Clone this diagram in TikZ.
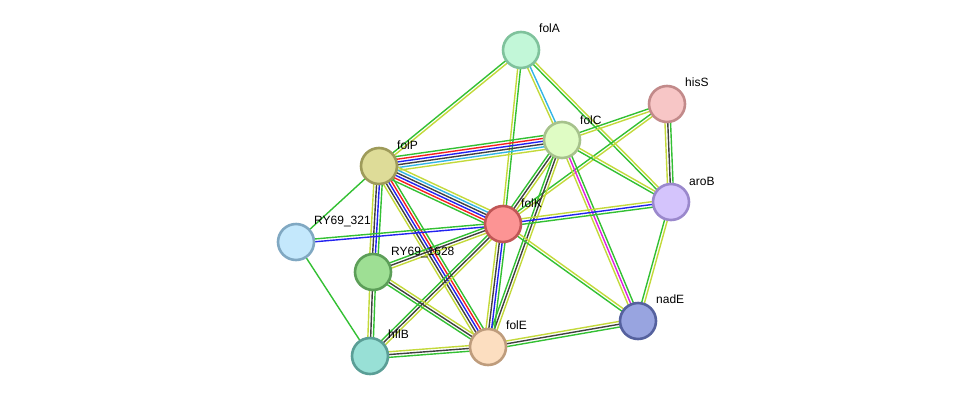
\documentclass[tikz,border=0pt]{standalone}
\usepackage{fontspec}
\setmainfont{Liberation Sans}
\usetikzlibrary{calc,backgrounds}
\definecolor{eg}{HTML}{33C033}
\definecolor{ey}{HTML}{C3D93A}
\definecolor{ek}{HTML}{404040}
\definecolor{er}{HTML}{F52020}
\definecolor{eb}{HTML}{2222F0}
\definecolor{ec}{HTML}{33B5E5}
\definecolor{em}{HTML}{E020E0}
\definecolor{fA}{HTML}{C2F7D8}\definecolor{bA}{HTML}{7FC29C}
\definecolor{fH}{HTML}{F7C6C6}\definecolor{bH}{HTML}{C28A8A}
\definecolor{fC}{HTML}{DFFCC4}\definecolor{bC}{HTML}{A6C28C}
\definecolor{fP}{HTML}{DEDC98}\definecolor{bP}{HTML}{9E9B5A}
\definecolor{fR}{HTML}{D4C4FC}\definecolor{bR}{HTML}{9A88CC}
\definecolor{fK}{HTML}{FC9494}\definecolor{bK}{HTML}{C05656}
\definecolor{f3}{HTML}{C4E8FC}\definecolor{b3}{HTML}{80A8C2}
\definecolor{f6}{HTML}{9EDF94}\definecolor{b6}{HTML}{5C9E58}
\definecolor{fN}{HTML}{98A4E0}\definecolor{bN}{HTML}{55619E}
\definecolor{fE}{HTML}{FCDEC0}\definecolor{bE}{HTML}{BE9C7C}
\definecolor{fB}{HTML}{98E0D6}\definecolor{bB}{HTML}{5A9E96}
\tikzset{
  prot/.style={circle, minimum size=36, inner sep=0, line width=2.6},
  lbl/.style={anchor=base west, font=\fontsize{12}{14}\selectfont, inner sep=0},
  strand/.style={line width=1.4}
}
\newcommand\sedge[3]{%
  \def\nstr{0}%
  \foreach \c in {#3}{\xdef\nstr{\the\numexpr\nstr+1\relax}}%
  \foreach \c [count=\i] in {#3}{%
    \pgfmathsetmacro\off{(\i-(\nstr+1)/2)*2.8}%
    \draw[strand, \c] ($(#1.center)!\off pt!90:(#2.center)$) -- ($(#2.center)!\off pt!-90:(#1.center)$);
  }%
}
\begin{document}
\begin{tikzpicture}[x=1pt,y=-1pt]
\useasboundingbox (0,0) rectangle (976,402);
\node[prot, fill=fA, draw=bA] (folA) at (521,50) {};
\node[prot, fill=fH, draw=bH] (hisS) at (667,104) {};
\node[prot, fill=fC, draw=bC] (folC) at (562,140) {};
\node[prot, fill=fP, draw=bP] (folP) at (379,166) {};
\node[prot, fill=fR, draw=bR] (aroB) at (671,202) {};
\node[prot, fill=fK, draw=bK] (folK) at (503,224) {};
\node[prot, fill=f3, draw=b3] (r321) at (296,242) {};
\node[prot, fill=f6, draw=b6] (r1628) at (373,272) {};
\node[prot, fill=fN, draw=bN] (nadE) at (638,321) {};
\node[prot, fill=fE, draw=bE] (folE) at (488,347) {};
\node[prot, fill=fB, draw=bB] (hflB) at (370,356) {};

\begin{scope}[on background layer]
\sedge{folA}{folP}{eg,ey}
\sedge{folA}{folK}{ey,eg}
\sedge{folA}{folC}{ey,ec}
\sedge{folA}{aroB}{eg,ey}
\sedge{hisS}{folC}{eg,ey}
\sedge{hisS}{folK}{eg,ey}
\sedge{hisS}{aroB}{ey,ek,eg}
\sedge{folC}{folP}{eg,er,eb,ek,ec,ey}
\sedge{folC}{folK}{eg,ek,ey}
\sedge{folC}{aroB}{eg,ey}
\sedge{folC}{nadE}{ey,em,eg}
\sedge{folC}{folE}{eg,ek,ey}
\sedge{folP}{folK}{eg,er,eb,ek,ec,ey}
\sedge{folP}{r321}{eg}
\sedge{folP}{r1628}{ey,ek,eb,eg}
\sedge{folP}{folE}{ey,ek,eb,er,eg}
\sedge{folK}{r321}{eg,eb}
\sedge{folK}{r1628}{eg,ek,ey}
\sedge{folK}{hflB}{eg,ek,ey}
\sedge{folK}{folE}{ey,ek,eb,eg}
\sedge{folK}{aroB}{eg,eb,ey}
\sedge{folK}{nadE}{eg,ey}
\sedge{r321}{hflB}{eg}
\sedge{r1628}{hflB}{ey,ek,eg}
\sedge{r1628}{folE}{eg,ek,ey}
\sedge{hflB}{folE}{eg,ek,ey}
\sedge{folE}{nadE}{eg,ek,ey}
\sedge{aroB}{nadE}{eg,ey}
\end{scope}

\node[lbl] (lfolA) at ($(folA.center)+(18,-18)$) {folA};
\node[lbl] (lhisS) at ($(hisS.center)+(18,-18)$) {hisS};
\node[lbl] (lfolC) at ($(folC.center)+(18,-16)$) {folC};
\node[lbl] (lfolP) at ($(folP.center)+(18,-17)$) {folP};
\node[lbl] (laroB) at ($(aroB.center)+(18,-17)$) {aroB};
\node[lbl] (lfolK) at ($(folK.center)+(18,-17)$) {folK};
\node[lbl] (lr321) at ($(r321.center)+(18,-18)$) {RY69\_321};
\node[lbl] (lr1628) at ($(r1628.center)+(18,-17)$) {RY69\_1628};
\node[lbl] (lnadE) at ($(nadE.center)+(18,-18)$) {nadE};
\node[lbl] (lfolE) at ($(folE.center)+(18,-18)$) {folE};
\node[lbl] (lhflB) at ($(hflB.center)+(18,-18)$) {hflB};
\end{tikzpicture}
\end{document}
